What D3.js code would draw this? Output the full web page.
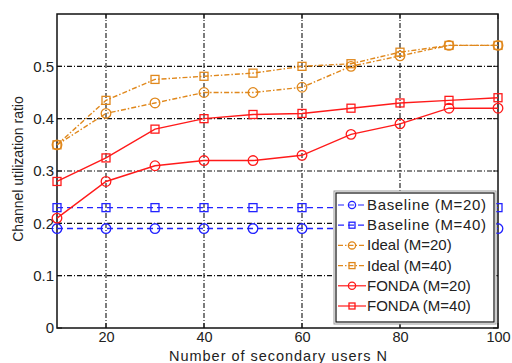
<!DOCTYPE html>
<html>
<head>
<meta charset="utf-8">
<script src="https://cdn.jsdelivr.net/npm/d3@7"></script>
<style>
  body { margin: 0; background: #fff; }
  text { font-family: Arial, "Liberation Sans", sans-serif; }
</style>
</head>
<body>
<div id="chart"></div>
<script>
// data
const xs = [10, 20, 30, 40, 50, 60, 70, 80, 90, 100];
const baseline20 = [0.19, 0.19, 0.19, 0.19, 0.19, 0.19, 0.19, 0.19, 0.19, 0.19];
const baseline40 = [0.23, 0.23, 0.23, 0.23, 0.23, 0.23, 0.23, 0.23, 0.23, 0.23];
const ideal20 = [0.35, 0.41, 0.43, 0.45, 0.45, 0.46, 0.50, 0.52, 0.54, 0.54];
const ideal40 = [0.35, 0.435, 0.475, 0.481, 0.487, 0.50, 0.505, 0.527, 0.54, 0.54];
const fonda20 = [0.21, 0.28, 0.31, 0.32, 0.32, 0.33, 0.37, 0.39, 0.42, 0.42];
const fonda40 = [0.28, 0.325, 0.38, 0.40, 0.408, 0.41, 0.42, 0.43, 0.435, 0.44];
const xTicks = [20, 40, 60, 80, 100];
const yTicks = [0, 0.1, 0.2, 0.3, 0.4, 0.5];

const series = [
  {name: "Baseline (M=20)", vals: baseline20, color: "#2323ff", dash: "6,4", mark: "circle"},
  {name: "Baseline (M=40)", vals: baseline40, color: "#2323ff", dash: "6,4", mark: "square"},
  {name: "Ideal (M=20)", vals: ideal20, color: "#e0881c", dash: "5,2,1.5,2", mark: "circle"},
  {name: "Ideal (M=40)", vals: ideal40, color: "#e0881c", dash: "5,2,1.5,2", mark: "square"},
  {name: "FONDA (M=20)", vals: fonda20, color: "#ff1a1a", dash: null, mark: "circle"},
  {name: "FONDA (M=40)", vals: fonda40, color: "#ff1a1a", dash: null, mark: "square"}
];

const W = 512, H = 363;
const m = {left: 57, right: 14, top: 14, bottom: 35};
const svg = d3.select("#chart").append("svg")
    .attr("width", W)
    .attr("height", H);

const x = d3.scaleLinear().domain([10, 100]).range([m.left, W - m.right]);
const y = d3.scaleLinear().domain([0, 0.6]).range([H - m.bottom, m.top]);

// grid
const grid = svg.append("g").attr("class", "grid");
grid.selectAll("line.gx").data(xTicks.filter(d => d < 100)).enter()
  .append("line")
    .attr("x1", d => x(d)).attr("x2", d => x(d))
    .attr("y1", y(0)).attr("y2", y(0.6))
    .attr("stroke", "#111").attr("stroke-width", 1.1)
    .attr("stroke-dasharray", "5,2,1,2");
grid.selectAll("line.gy").data(yTicks.filter(d => d > 0)).enter()
  .append("line")
    .attr("x1", x(10)).attr("x2", x(100))
    .attr("y1", d => y(d)).attr("y2", d => y(d))
    .attr("stroke", "#111").attr("stroke-width", 1.1)
    .attr("stroke-dasharray", "5,2,1,2");

// axes
svg.append("g")
    .attr("transform", `translate(0,${y(0)})`)
    .call(d3.axisBottom(x).tickValues(xTicks).tickSize(0).tickPadding(4))
    .call(g => g.select(".domain").remove())
    .selectAll("text").attr("font-size", 14.5).attr("fill", "#222");
svg.append("g")
    .attr("transform", `translate(${x(10)},0)`)
    .call(d3.axisLeft(y).tickValues(yTicks).tickFormat(d3.format("~g")).tickSize(0).tickPadding(3))
    .call(g => g.select(".domain").remove())
    .selectAll("text").attr("font-size", 15).attr("fill", "#222");

// inward tick marks on all sides
const tk = svg.append("g").attr("stroke", "#111").attr("stroke-width", 1);
xTicks.forEach(d => {
  tk.append("line").attr("x1", x(d)).attr("x2", x(d)).attr("y1", y(0)).attr("y2", y(0) - 5);
  tk.append("line").attr("x1", x(d)).attr("x2", x(d)).attr("y1", y(0.6)).attr("y2", y(0.6) + 5);
});
yTicks.forEach(d => {
  tk.append("line").attr("x1", x(10)).attr("x2", x(10) + 5).attr("y1", y(d)).attr("y2", y(d));
  tk.append("line").attr("x1", x(100)).attr("x2", x(100) - 5).attr("y1", y(d)).attr("y2", y(d));
});

// frame
svg.append("rect")
    .attr("x", x(10)).attr("y", y(0.6))
    .attr("width", x(100) - x(10)).attr("height", y(0) - y(0.6))
    .attr("fill", "none").attr("stroke", "#111").attr("stroke-width", 1.5);

// labels
svg.append("text")
    .attr("x", 278).attr("y", H - 2)
    .attr("text-anchor", "middle").attr("font-size", 14.5).attr("fill", "#222")
    .attr("textLength", 218)
    .text("Number of secondary users N");
svg.append("text")
    .attr("transform", `translate(23,169) rotate(-90)`)
    .attr("text-anchor", "middle").attr("font-size", 14).attr("fill", "#222")
    .text("Channel utilization ratio");

// lines and markers
const line = d3.line().x(d => x(d[0])).y(d => y(d[1]));

function drawMark(g, type, cx, cy, color, size) {
  if (type === "circle") {
    g.append("circle").attr("cx", cx).attr("cy", cy).attr("r", size * 0.6)
      .attr("fill", "none").attr("stroke", color).attr("stroke-width", 1.3);
  } else {
    g.append("rect").attr("x", cx - size / 2).attr("y", cy - size / 2)
      .attr("width", size).attr("height", size)
      .attr("fill", "none").attr("stroke", color).attr("stroke-width", 1.3);
  }
}

series.forEach(s => {
  const pts = xs.map((v, i) => [v, s.vals[i]]);
  const g = svg.append("g");
  g.append("path").datum(pts)
    .attr("d", line)
    .attr("fill", "none").attr("stroke", s.color).attr("stroke-width", 1.4)
    .attr("stroke-dasharray", s.dash);
  pts.forEach(p => drawMark(g, s.mark, x(p[0]), y(p[1]), s.color, 8));
});

// legend
const lg = svg.append("g");
const lx = 334, ly = 191, lw = 162, lh = 133;
lg.append("rect").attr("x", lx).attr("y", ly).attr("width", lw).attr("height", lh)
  .attr("fill", "#fff").attr("stroke", "#999").attr("stroke-width", 1);
lg.append("rect").attr("x", lx + 2).attr("y", ly + 2).attr("width", lw - 4).attr("height", lh - 4)
  .attr("fill", "none").attr("stroke", "#111").attr("stroke-width", 1.2);
series.forEach((s, i) => {
  const yy = ly + 14 + i * 20.2;
  lg.append("line").attr("x1", lx + 4).attr("x2", lx + 32).attr("y1", yy).attr("y2", yy)
    .attr("stroke", s.color).attr("stroke-width", 1.2).attr("stroke-dasharray", s.dash);
  drawMark(lg, s.mark, lx + 18, yy, s.color, 6);
  lg.append("text").attr("x", lx + 33).attr("y", yy + 5)
    .attr("font-size", 15).attr("fill", "#222").attr("textLength", i < 2 ? 119 : null)
    .text(s.name);
});
</script>
</body>
</html>
